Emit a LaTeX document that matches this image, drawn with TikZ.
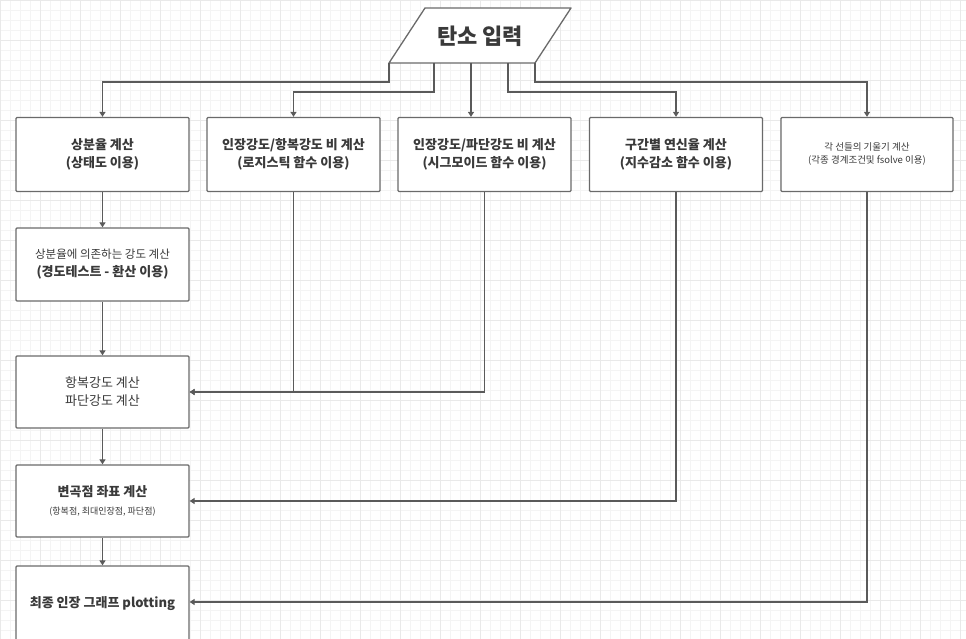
\documentclass[tikz,border=0pt]{standalone}
\usepackage{fontspec}
\setmainfont{Noto Sans CJK KR}
\usetikzlibrary{arrows.meta,calc}
\definecolor{boxline}{HTML}{6A6A6A}
\definecolor{conn}{HTML}{5A5A5A}
\definecolor{txt}{HTML}{3A3A3A}
\definecolor{gridminor}{HTML}{F4F4F4}
\definecolor{gridmajor}{HTML}{E9E9E9}
\begin{document}
\begin{tikzpicture}[x=1pt,y=-1pt,
  stepbox/.style={draw=boxline,line width=1.3pt,rounded corners=1pt,fill=white,
    minimum width=173pt,minimum height=74pt,align=center,text=txt,inner sep=2pt,
    font=\fontsize{13}{18}\selectfont\bfseries},
  arr/.style={draw=conn,line width=1.2pt,-{Triangle[length=5pt,width=6pt]}},
  ln/.style={draw=conn,line width=1.2pt}]
\useasboundingbox (0,0) rectangle (966,639);
\fill[white] (0,0) rectangle (966,639);
% background grid
\foreach \i in {0,10,...,960} {\draw[gridminor,line width=0.6pt] (\i,0) -- (\i,639);}
\foreach \j in {0,10,...,630} {\draw[gridminor,line width=0.6pt] (0,\j) -- (966,\j);}
\foreach \i in {0,40,...,960} {\draw[gridmajor,line width=0.7pt] (\i,0) -- (\i,639);}
\foreach \j in {0,40,...,630} {\draw[gridmajor,line width=0.7pt] (0,\j) -- (966,\j);}

% input parallelogram
\draw[boxline,line width=1.3pt,fill=white,line join=round] (425,8) -- (571,8) -- (535,63) -- (389,63) -- cycle;
\node[text=txt,font=\fontsize{22}{26}\selectfont\bfseries] (in) at (480,36) {탄소 입력};
\coordinate (p1) at (389,63);
\coordinate (p2) at (434,63);
\coordinate (p3) at (471,63);
\coordinate (p4) at (508,63);
\coordinate (p5) at (535,63);

% first row
\node[stepbox] (b1) at (102.5,154.5) {상분율 계산\\(상태도 이용)};
\node[stepbox] (b2) at (293.5,154.5) {인장강도/항복강도 비 계산\\(로지스틱 함수 이용)};
\node[stepbox] (b3) at (484.5,154.5) {인장강도/파단강도 비 계산\\(시그모이드 함수 이용)};
\node[stepbox] (b4) at (676,154.5) {구간별 연신율 계산\\(지수감소 함수 이용)};
\node[stepbox,minimum width=172pt,font=\fontsize{9.5}{13}\selectfont] (b5) at (867,154.5) {각 선들의 기울기 계산\\(각종 경계조건및 fsolve 이용)};

% left column
\node[stepbox,minimum height=73pt] (c1) at (102.5,264.5) {{\mdseries\fontsize{11.5}{17}\selectfont 상분율에 의존하는 강도 계산}\\(경도테스트 - 환산 이용)};
\node[stepbox,minimum height=72pt,font=\fontsize{13}{18}\selectfont\mdseries] (c2) at (102.5,392) {항복강도 계산\\파단강도 계산};
\node[stepbox,minimum height=72pt] (c3) at (102.5,501) {변곡점 좌표 계산\\{\mdseries\fontsize{9}{13}\selectfont (항복점, 최대인장점, 파단점)}};
\node[stepbox,minimum height=76pt] (c4) at (102.5,604) {최종 인장 그래프 plotting};

% connectors from input
\draw[arr] (p1) -- (p1 |- 0,82) -| (b1.north);
\draw[arr] (p2) -- (p2 |- 0,92) -| (b2.north);
\draw[arr] (p3) -- (p3 |- b3.north);
\draw[arr] (p4) -- (p4 |- 0,92) -| (b4.north);
\draw[arr] (p5) -- (p5 |- 0,82) -| (b5.north);

% left column flow
\draw[arr] (b1) -- (c1);
\draw[arr] (c1) -- (c2);
\draw[arr] (c2) -- (c3);
\draw[arr] (c3) -- (c4);

% side feeds
\draw[arr] (b2.south) |- (c2.east);
\draw[arr] (b3.south) |- (c2.east);
\draw[arr] (b4.south) |- (c3.east);
\draw[arr] (b5.south) |- ($(c4.east)+(0,-2)$);
\end{tikzpicture}
\end{document}
